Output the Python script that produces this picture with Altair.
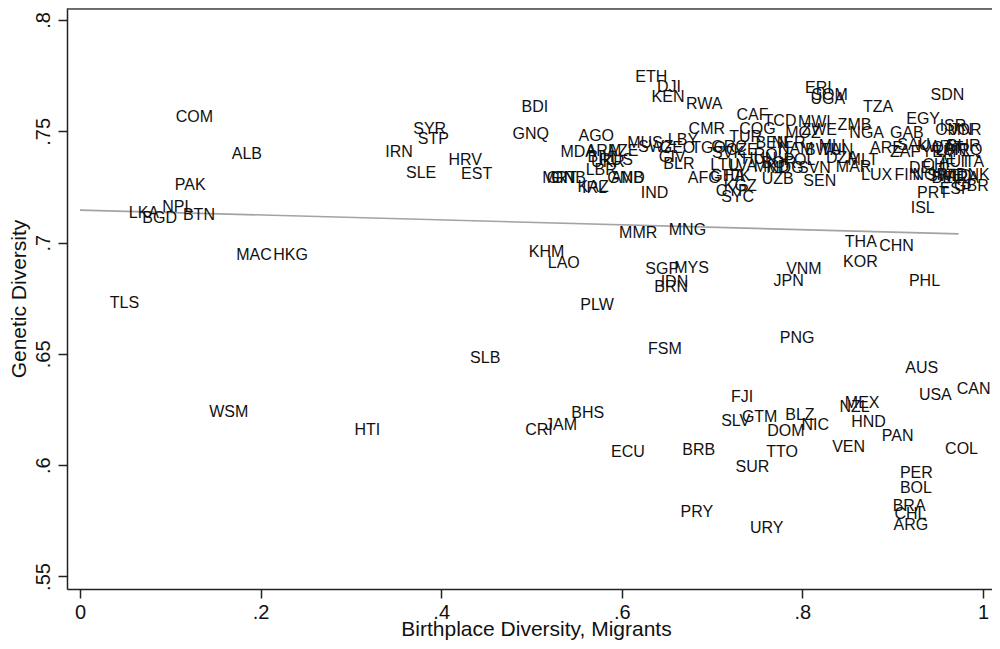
import altair as alt
import pandas as pd

codes = ["COM","ALB","PAK","LKA","NPL","BGD","BTN","TLS","MAC","HKG","WSM","HTI","SYR","STP","IRN","HRV","SLE","EST",
         "BDI","GNQ","SLB","PLW","CRI","JAM","BHS","ECU","KHM","LAO","MMR","MNG","SGP","MYS","IDN","BRN","FSM","PNG",
         "VNM","JPN","KOR","THA","CHN","PHL","AUS","USA","CAN","FJI","MEX","NZL","SLV","GTM","BLZ","NIC","DOM","HND",
         "PAN","BRB","VEN","COL","TTO","SUR","PER","BOL","BRA","CHL","ARG","PRY","URY",
         "ETH","DJI","KEN","RWA","AGO","CMR","MDA","ARM","AZE","BIH","UKR","RUS","MUS","SWZ","LBY","GEO","TGO","CIV",
         "BLR","LBR","MRT","GIN","GNB","KAZ","IRL","GMB","AND","IND","AFG","CAF","TCD","MWI","COG","TUR","MOZ","ZWE",
         "ZMB","BEN","NER","GRC","CZE","NAM","BWA","MLI","SVK","HUN","POL","BGR","LTU","LVA","MKD","MDG","SVN","GHA",
         "TJK","UZB","SEN","KGZ","CYP","SYC","ERI","SOM","UGA","TZA","SDN","EGY","ISR","OMN","JOR","GAB","NGA","ARE",
         "ZAF","SAU","KWT","QAT","BHR","IRQ","YEM","LBN","TUN","MLT","MAR","DZA","AUT","ITA","CHE","DEU","LUX","FIN",
         "NOR","SWE","NLD","DNK","BEL","FRA","ESP","GBR","PRT","ISL","ROU"]

birthplace_div = [0.106,0.168,0.105,0.054,0.091,0.069,0.114,0.033,0.173,0.214,0.143,0.304,0.369,0.374,0.338,0.408,0.361,0.422,
                  0.489,0.479,0.432,0.554,0.493,0.515,0.544,0.588,0.497,0.518,0.597,0.652,0.626,0.658,0.643,0.636,0.629,0.775,
                  0.782,0.768,0.845,0.847,0.885,0.918,0.914,0.929,0.971,0.721,0.847,0.841,0.710,0.733,0.781,0.799,0.761,0.854,
                  0.888,0.667,0.833,0.958,0.760,0.726,0.908,0.908,0.900,0.902,0.901,0.665,0.742,
                  0.615,0.639,0.633,0.671,0.552,0.674,0.532,0.560,0.584,0.562,0.566,0.575,0.606,0.618,0.651,0.642,0.677,0.641,
                  0.646,0.560,0.512,0.517,0.522,0.551,0.556,0.584,0.588,0.621,0.673,0.727,0.757,0.795,0.730,0.719,0.781,0.799,
                  0.839,0.748,0.766,0.699,0.715,0.773,0.803,0.818,0.700,0.733,0.779,0.755,0.698,0.719,0.746,0.760,0.795,0.698,
                  0.711,0.755,0.801,0.713,0.704,0.710,0.803,0.810,0.809,0.867,0.942,0.915,0.952,0.947,0.963,0.897,0.852,0.875,
                  0.897,0.905,0.927,0.943,0.960,0.968,0.932,0.947,0.820,0.850,0.837,0.826,0.951,0.975,0.933,0.918,0.865,0.902,
                  0.922,0.938,0.952,0.970,0.943,0.960,0.952,0.968,0.927,0.920,0.746]

genetic_div = [0.7564,0.7398,0.7259,0.7133,0.7160,0.7110,0.7124,0.6729,0.6944,0.6944,0.6239,0.6158,0.7510,0.7465,0.7407,0.7371,0.7313,0.7308,
               0.7609,0.7488,0.6482,0.6720,0.6158,0.6181,0.6234,0.6059,0.6958,0.6908,0.7043,0.7057,0.6881,0.6886,0.6823,0.6800,0.6522,0.6571,
               0.6881,0.6827,0.6913,0.7003,0.6985,0.6827,0.6437,0.6315,0.6342,0.6306,0.6279,0.6261,0.6199,0.6217,0.6225,0.6181,0.6154,0.6194,
               0.6131,0.6068,0.6082,0.6073,0.6059,0.5992,0.5965,0.5898,0.5817,0.5781,0.5731,0.5790,0.5718,
               0.7744,0.7699,0.7654,0.7623,0.7479,0.7510,0.7407,0.7411,0.7411,0.7384,0.7362,0.7371,0.7447,0.7429,0.7461,0.7425,0.7425,0.7384,
               0.7353,0.7326,0.7290,0.7290,0.7290,0.7250,0.7245,0.7290,0.7290,0.7223,0.7290,0.7573,0.7546,0.7542,0.7510,0.7474,0.7492,0.7506,
               0.7528,0.7447,0.7447,0.7429,0.7416,0.7420,0.7416,0.7434,0.7402,0.7375,0.7371,0.7357,0.7349,0.7344,0.7340,0.7335,0.7335,0.7299,
               0.7299,0.7286,0.7277,0.7254,0.7232,0.7205,0.7694,0.7663,0.7645,0.7609,0.7663,0.7555,0.7524,0.7506,0.7506,0.7492,0.7492,0.7425,
               0.7407,0.7438,0.7429,0.7425,0.7434,0.7416,0.7407,0.7416,0.7416,0.7371,0.7340,0.7380,0.7362,0.7362,0.7349,0.7335,0.7304,0.7304,
               0.7304,0.7299,0.7299,0.7304,0.7290,0.7290,0.7241,0.7254,0.7223,0.7155,0.7394]

fit_x = [0.0, 0.973]
fit_y = [0.7146, 0.7039]

x_ticks = [0, 0.2, 0.4, 0.6, 0.8, 1.0]
y_ticks = [0.55, 0.6, 0.65, 0.7, 0.75, 0.8]

W, H = 925, 581
FONT = "Liberation Sans"

pts = pd.DataFrame({"code": codes, "bd": birthplace_div, "gd": genetic_div})
fit = pd.DataFrame({"bd": fit_x, "gd": fit_y})

xs = alt.Scale(domain=[-0.0144, 1.00997], nice=False, zero=False)
ys = alt.Scale(domain=[0.54438, 0.80539], nice=False, zero=False)
lab_expr = "replace(format(datum.value, '.2~f'), '0.', '.')"

x_axis = alt.Axis(values=x_ticks, labelExpr=lab_expr, title="Birthplace Diversity, Migrants",
                  tickSize=9, tickWidth=1.5, domainWidth=1.5, domainColor="#222", tickColor="#222",
                  labelFont=FONT, titleFont=FONT, labelFontSize=20, titleFontSize=21,
                  titleFontWeight="normal", labelColor="#111", titleColor="#111",
                  labelPadding=4, titleBaseline="alphabetic", titleY=46, titleX=469,
                  grid=False, labelFlush=False)
y_axis = alt.Axis(values=y_ticks, labelExpr=lab_expr, title="Genetic Diversity",
                  tickSize=9, tickWidth=1.5, domainWidth=1.5, domainColor="#222", tickColor="#222",
                  labelFont=FONT, titleFont=FONT, labelFontSize=20, titleFontSize=21,
                  titleFontWeight="normal", labelColor="#111", titleColor="#111",
                  labelAngle=270, labelAlign="center", labelBaseline="bottom",
                  labelPadding=5, titleAngle=270, titleBaseline="alphabetic", titleAlign="center",
                  titleX=-42, titleY=H / 2, grid=False, labelFlush=False)

X = alt.X("bd:Q", scale=xs, axis=x_axis)
Y = alt.Y("gd:Q", scale=ys, axis=y_axis)

line = alt.Chart(fit).mark_line(color="#a3a3a3", strokeWidth=1.6).encode(x=X, y=Y)
labels = alt.Chart(pts).mark_text(align="left", baseline="middle", font=FONT, fontSize=16,
                                  color="#111").encode(x=X, y=Y, text="code:N")
top = alt.Chart(pd.DataFrame({"a": [0]})).mark_rule(color="#444", strokeWidth=1.5).encode(
    x=alt.value(0), x2=alt.value(W), y=alt.value(1))

chart = alt.layer(line, labels, top).properties(
    width=W, height=H,
    autosize=alt.AutoSizeParams(type="none"),
    padding={"left": 59, "top": 0, "right": 0, "bottom": 51},
).configure_view(stroke=None).configure(background="white")

chart.save("out.html", embed_options={"renderer": "svg", "actions": False})
